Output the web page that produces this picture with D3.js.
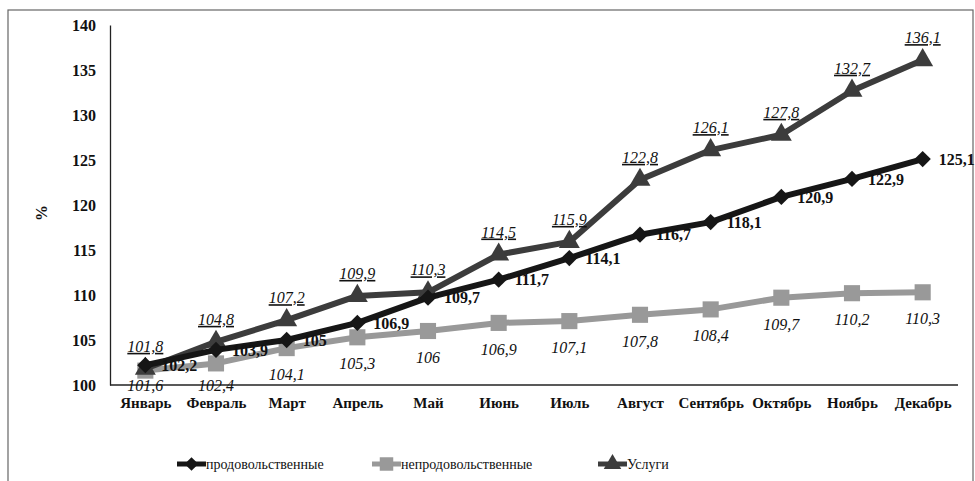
<!DOCTYPE html>
<html>
<head>
<meta charset="utf-8">
<script src="https://cdn.jsdelivr.net/npm/d3@7"></script>
<style>
  body { margin: 0; background: #fff; }
  svg { display: block; }
  svg text { font-family: "Liberation Serif", "Times New Roman", Times, "DejaVu Serif", serif; }
</style>
</head>
<body>
<svg id="chart" width="975" height="481"></svg>
<script>
const months = ["Январь", "Февраль", "Март", "Апрель", "Май", "Июнь", "Июль", "Август", "Сентябрь", "Октябрь", "Ноябрь", "Декабрь"];
const food = [102.2, 103.9, 105, 106.9, 109.7, 111.7, 114.1, 116.7, 118.1, 120.9, 122.9, 125.1];
const nonFood = [101.6, 102.4, 104.1, 105.3, 106, 106.9, 107.1, 107.8, 108.4, 109.7, 110.2, 110.3];
const services = [101.8, 104.8, 107.2, 109.9, 110.3, 114.5, 115.9, 122.8, 126.1, 127.8, 132.7, 136.1];
const yTicks = [100, 105, 110, 115, 120, 125, 130, 135, 140];
const seriesNames = ["продовольственные", "непродовольственные", "Услуги"];

const svg = d3.select("#chart");

// frame
svg.append("rect")
    .attr("x", 8).attr("y", 10)
    .attr("width", 965).attr("height", 480)
    .attr("fill", "none")
    .attr("stroke", "#666")
    .attr("stroke-width", 1.2);

let x = d3.scalePoint()
    .domain(months)
    .range([110, 958])
    .padding(0.5);

let y = d3.scaleLinear()
    .domain([100, 140])
    .range([385, 25]);

// axes
let yAxis = svg.append("g")
    .attr("transform", "translate(110,0)")
    .call(d3.axisLeft(y).tickValues(yTicks).tickSize(0).tickPadding(14));
yAxis.attr("font-family", null);
yAxis.select(".domain").attr("stroke", "#222").attr("stroke-width", 1.3);
yAxis.selectAll("text")
    .attr("font-size", 16)
    .attr("font-weight", "bold")
    .attr("fill", "#111");

let xAxis = svg.append("g")
    .attr("transform", "translate(0,385)")
    .call(d3.axisBottom(x).tickSize(0).tickPadding(12));
xAxis.attr("font-family", null);
xAxis.select(".domain").attr("stroke", "#222").attr("stroke-width", 1.3)
    .attr("d", "M110,0H958");
xAxis.selectAll("text")
    .attr("font-size", 15)
    .attr("font-weight", "bold")
    .attr("fill", "#111");

svg.append("text")
    .attr("transform", "translate(47,213) rotate(-90)")
    .attr("text-anchor", "middle")
    .attr("font-size", 16)
    .attr("font-weight", "bold")
    .attr("fill", "#111")
    .text("%");

const line = d3.line()
    .x((d, i) => x(months[i]))
    .y(d => y(d));

const styles = [
    {data: food, color: "#161616", symbol: d3.symbolDiamond2, size: 170},
    {data: nonFood, color: "#999", symbol: d3.symbolSquare, size: 260},
    {data: services, color: "#3c3c3c", symbol: d3.symbolTriangle, size: 190}
];

// draw order: non-food, services, food
[1, 2, 0].forEach(k => {
    const s = styles[k];
    svg.append("path")
        .datum(s.data)
        .attr("fill", "none")
        .attr("stroke", s.color)
        .attr("stroke-width", 6)
        .attr("stroke-linejoin", "round")
        .attr("d", line);
    svg.selectAll(null)
        .data(s.data)
        .join("path")
        .attr("transform", (d, i) => `translate(${x(months[i])},${y(d)})`)
        .attr("d", d3.symbol(s.symbol, s.size))
        .attr("fill", s.color);
});

const fmt = v => String(v).replace(".", ",");

// labels: non-food below, italic
svg.selectAll(null)
    .data(nonFood)
    .join("text")
    .attr("x", (d, i) => x(months[i]))
    .attr("y", d => Math.min(y(d) + 32, 391))
    .attr("text-anchor", "middle")
    .attr("font-size", 16)
    .attr("font-style", "italic")
    .attr("fill", "#111")
    .text(fmt);

// labels: services above, italic underlined
svg.selectAll(null)
    .data(services)
    .join("text")
    .attr("x", (d, i) => x(months[i]))
    .attr("y", d => y(d) - 17)
    .attr("text-anchor", "middle")
    .attr("font-size", 16)
    .attr("font-style", "italic")
    .attr("text-decoration", "underline")
    .attr("fill", "#111")
    .text(fmt);

// labels: food right, bold
svg.selectAll(null)
    .data(food)
    .join("text")
    .attr("x", (d, i) => x(months[i]) + 16)
    .attr("y", d => y(d))
    .attr("dy", "0.35em")
    .attr("font-size", 16)
    .attr("font-weight", "bold")
    .attr("fill", "#111")
    .text(fmt);

// legend
const legendX = [177, 372, 598];
const legend = svg.selectAll(".legend")
    .data(seriesNames)
    .join("g")
    .attr("class", "legend")
    .attr("transform", (d, i) => `translate(${legendX[i]},464)`);
legend.append("line")
    .attr("x1", 0).attr("x2", 29)
    .attr("stroke", (d, i) => styles[i].color)
    .attr("stroke-width", 5);
legend.append("path")
    .attr("transform", "translate(14.5,0)")
    .attr("d", (d, i) => d3.symbol(styles[i].symbol, styles[i].size * 0.7)())
    .attr("fill", (d, i) => styles[i].color);
legend.append("text")
    .attr("x", 29)
    .attr("dy", "0.35em")
    .attr("font-size", 14)
    .attr("fill", "#111")
    .text(d => d);
</script>
</body>
</html>
